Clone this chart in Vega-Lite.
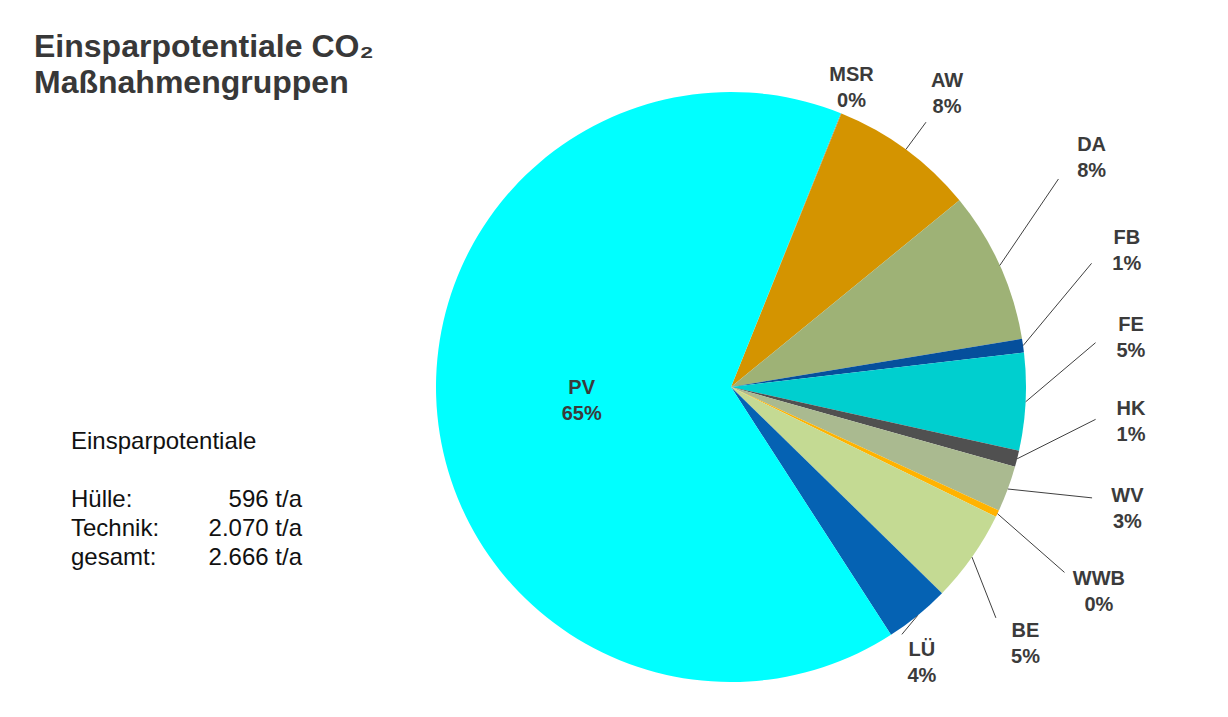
{
  "$schema": "https://vega.github.io/schema/vega-lite/v6.json",
  "background": "white",
  "padding": {"left": 34, "top": 31, "right": 10, "bottom": 10},
  "bounds": "flush",
  "spacing": 134,
  "config": {
    "font": "Liberation Sans",
    "view": {"stroke": null},
    "locale": {"number": {"decimal": ",", "thousands": ".", "grouping": [3], "currency": ["", " €"]}}
  },
  "datasets": {
    "massnahmen": [
      {"nr": 1, "kat": "MSR", "gruppe": "Technik", "wert": 1},
      {"nr": 2, "kat": "AW", "gruppe": "Hülle", "wert": 213},
      {"nr": 3, "kat": "DA", "gruppe": "Hülle", "wert": 221},
      {"nr": 4, "kat": "FB", "gruppe": "Hülle", "wert": 20},
      {"nr": 5, "kat": "FE", "gruppe": "Hülle", "wert": 142},
      {"nr": 6, "kat": "HK", "gruppe": "Technik", "wert": 24},
      {"nr": 7, "kat": "WV", "gruppe": "Technik", "wert": 67},
      {"nr": 8, "kat": "WWB", "gruppe": "Technik", "wert": 10},
      {"nr": 9, "kat": "BE", "gruppe": "Technik", "wert": 135},
      {"nr": 10, "kat": "LÜ", "gruppe": "Technik", "wert": 95},
      {"nr": 11, "kat": "PV", "gruppe": "Technik", "wert": 1738}
    ]
  },
  "hconcat": [
    {
      "width": 231,
      "height": 472.5,
      "title": {
        "text": ["Einsparpotentiale CO₂", "Maßnahmengruppen"],
        "anchor": "start",
        "frame": "group",
        "dx": -37,
        "offset": -8,
        "font": "Liberation Sans",
        "fontSize": 32,
        "fontWeight": "bold",
        "lineHeight": 36,
        "color": "#383838"
      },
      "data": {"name": "massnahmen"},
      "layer": [
        {
          "transform": [
            {"aggregate": [{"op": "sum", "field": "wert", "as": "summe"}], "groupby": ["gruppe"]},
            {"calculate": "datum.gruppe", "as": "zeile"}
          ],
          "layer": [
            {
              "transform": [{"calculate": "datum.zeile + ':'", "as": "zeile_text"}],
              "mark": {"type": "text", "align": "left", "baseline": "alphabetic", "fontSize": 24, "color": "#111111"},
              "encoding": {
                "x": {"datum": "Bezeichnung", "type": "ordinal", "scale": {"type": "point", "domain": ["Bezeichnung", "Wert"], "padding": 0}, "axis": null},
                "y": {"field": "zeile", "type": "ordinal", "scale": {"type": "point", "domain": ["Einsparpotentiale", "Leerzeile", "Hülle", "Technik", "gesamt"], "padding": 0, "range": [357, 472.5]}, "axis": null},
                "text": {"field": "zeile_text"}
              }
            },
            {
              "transform": [{"calculate": "format(datum.summe, ',.0f') + ' t/a'", "as": "wert_text"}],
              "mark": {"type": "text", "align": "right", "baseline": "alphabetic", "fontSize": 24, "color": "#111111"},
              "encoding": {
                "x": {"datum": "Wert", "type": "ordinal", "scale": {"type": "point", "domain": ["Bezeichnung", "Wert"], "padding": 0}, "axis": null},
                "y": {"field": "zeile", "type": "ordinal", "scale": {"type": "point", "domain": ["Einsparpotentiale", "Leerzeile", "Hülle", "Technik", "gesamt"], "padding": 0, "range": [357, 472.5]}, "axis": null},
                "text": {"field": "wert_text"}
              }
            }
          ]
        },
        {
          "transform": [
            {"aggregate": [{"op": "sum", "field": "wert", "as": "summe"}]},
            {"calculate": "'gesamt'", "as": "zeile"}
          ],
          "layer": [
            {
              "transform": [{"calculate": "datum.zeile + ':'", "as": "zeile_text"}],
              "mark": {"type": "text", "align": "left", "baseline": "alphabetic", "fontSize": 24, "color": "#111111"},
              "encoding": {
                "x": {"datum": "Bezeichnung", "type": "ordinal", "scale": {"type": "point", "domain": ["Bezeichnung", "Wert"], "padding": 0}, "axis": null},
                "y": {"field": "zeile", "type": "ordinal", "scale": {"type": "point", "domain": ["Einsparpotentiale", "Leerzeile", "Hülle", "Technik", "gesamt"], "padding": 0, "range": [357, 472.5]}, "axis": null},
                "text": {"field": "zeile_text"}
              }
            },
            {
              "transform": [{"calculate": "format(datum.summe, ',.0f') + ' t/a'", "as": "wert_text"}],
              "mark": {"type": "text", "align": "right", "baseline": "alphabetic", "fontSize": 24, "color": "#111111"},
              "encoding": {
                "x": {"datum": "Wert", "type": "ordinal", "scale": {"type": "point", "domain": ["Bezeichnung", "Wert"], "padding": 0}, "axis": null},
                "y": {"field": "zeile", "type": "ordinal", "scale": {"type": "point", "domain": ["Einsparpotentiale", "Leerzeile", "Hülle", "Technik", "gesamt"], "padding": 0, "range": [357, 472.5]}, "axis": null},
                "text": {"field": "wert_text"}
              }
            },
            {
              "mark": {"type": "text", "align": "left", "baseline": "alphabetic", "fontSize": 24, "color": "#111111"},
              "encoding": {
                "x": {"datum": "Bezeichnung", "type": "ordinal", "scale": {"type": "point", "domain": ["Bezeichnung", "Wert"], "padding": 0}, "axis": null},
                "y": {"datum": "Einsparpotentiale", "type": "ordinal", "scale": {"type": "point", "domain": ["Einsparpotentiale", "Leerzeile", "Hülle", "Technik", "gesamt"], "padding": 0, "range": [357, 472.5]}, "axis": null},
                "text": {"value": "Einsparpotentiale"}
              }
            }
          ]
        }
      ]
    },
    {
      "width": 590,
      "height": 590,
      "data": {"name": "massnahmen"},
      "transform": [
        {"joinaggregate": [{"op": "sum", "field": "wert", "as": "gesamt"}]},
        {"stack": "wert", "groupby": [], "sort": [{"field": "nr", "order": "ascending"}], "as": ["s0", "s1"]},
        {"calculate": "datum.wert / datum.gesamt", "as": "anteil"},
        {"calculate": "datum.s0 / datum.gesamt", "as": "f0"},
        {"calculate": "datum.s1 / datum.gesamt", "as": "f1"},
        {"calculate": "(datum.f0 + datum.f1) / 2", "as": "fm"},
        {"calculate": "datum.kat + '\\n' + format(datum.anteil, '.0%')", "as": "etikett"}
      ],
      "layer": [
        {
          "mark": {"type": "arc"},
          "encoding": {
            "theta": {"field": "f0", "type": "quantitative", "stack": null, "scale": {"domain": [0, 1], "range": [0.38135, 6.66454]}},
            "theta2": {"field": "f1"},
            "color": {
              "field": "kat",
              "type": "nominal",
              "legend": null,
              "scale": {
                "domain": ["MSR", "AW", "DA", "FB", "FE", "HK", "WV", "WWB", "BE", "LÜ", "PV"],
                "range": ["#7f7f7f", "#d49400", "#9eb276", "#054f9c", "#00cfcf", "#505050", "#aaba90", "#ffb300", "#c4da93", "#0562b3", "#00ffff"]
              }
            }
          }
        },
        {
          "transform": [{"filter": "datum.anteil >= 0.5"}],
          "mark": {"type": "text", "radius": 150, "dy": -13, "fontSize": 20, "fontWeight": "bold", "lineBreak": "\n", "lineHeight": 26, "align": "center", "baseline": "middle", "color": "#3b3b3b"},
          "encoding": {
            "theta": {"field": "fm", "type": "quantitative", "stack": null, "scale": {"domain": [0, 1], "range": [0.38135, 6.66454]}},
            "text": {"field": "etikett"}
          }
        },
        {
          "transform": [
            {"filter": "datum.anteil < 0.5"},
            {"window": [{"op": "row_number", "as": "rang"}], "sort": [{"field": "nr", "order": "ascending"}]},
            {"calculate": "datum.fm - datum.rang / 30", "as": "versatz"},
            {"window": [{"op": "max", "field": "versatz", "as": "vorwaerts"}], "sort": [{"field": "nr", "order": "ascending"}], "frame": [null, 0]},
            {"window": [{"op": "min", "field": "versatz", "as": "rueckwaerts"}], "sort": [{"field": "nr", "order": "ascending"}], "frame": [0, null]},
            {"calculate": "datum.rang / 30 + 0.35 * datum.vorwaerts + 0.65 * datum.rueckwaerts", "as": "lf"},
            {"calculate": "0.38135 + 2 * PI * datum.lf", "as": "lw"},
            {"calculate": "0.38135 + 2 * PI * datum.fm", "as": "mw"},
            {"calculate": "cos(datum.lw) >= 0 ? 1.017 : 0.949", "as": "ry"},
            {"calculate": "pow(pow(abs(sin(datum.lw)) / 1.356, 4) + pow(abs(cos(datum.lw)) / datum.ry, 4), -0.25)", "as": "lr"},
            {"calculate": "datum.lr * sin(datum.lw)", "as": "lx"},
            {"calculate": "datum.lr * cos(datum.lw)", "as": "ly"},
            {"calculate": "pow(pow(abs(sin(datum.lw)) / 1.236, 4) + pow(abs(cos(datum.lw)) / (datum.ry - 0.1), 4), -0.25)", "as": "ar"},
            {"calculate": "sin(datum.mw)", "as": "x0"},
            {"calculate": "cos(datum.mw)", "as": "y0"},
            {"calculate": "datum.ar * sin(datum.lw)", "as": "x1"},
            {"calculate": "datum.ar * cos(datum.lw)", "as": "y1"}
          ],
          "layer": [
            {
              "transform": [{"filter": "sqrt(pow(datum.x1 - datum.x0, 2) + pow(datum.y1 - datum.y0, 2)) > 0.07"}],
              "mark": {"type": "rule", "color": "#404040", "strokeWidth": 1},
              "encoding": {
                "x": {"field": "x0", "type": "quantitative", "scale": {"domain": [-1, 1], "nice": false, "zero": false}, "axis": null},
                "y": {"field": "y0", "type": "quantitative", "scale": {"domain": [-1, 1], "nice": false, "zero": false}, "axis": null},
                "x2": {"field": "x1"},
                "y2": {"field": "y1"}
              }
            },
            {
              "mark": {"type": "text", "dy": -13, "fontSize": 20, "fontWeight": "bold", "lineBreak": "\n", "lineHeight": 26, "align": "center", "baseline": "middle", "color": "#3b3b3b"},
              "encoding": {
                "x": {"field": "lx", "type": "quantitative", "scale": {"domain": [-1, 1], "nice": false, "zero": false}, "axis": null},
                "y": {"field": "ly", "type": "quantitative", "scale": {"domain": [-1, 1], "nice": false, "zero": false}, "axis": null},
                "text": {"field": "etikett"}
              }
            }
          ]
        }
      ]
    }
  ]
}
